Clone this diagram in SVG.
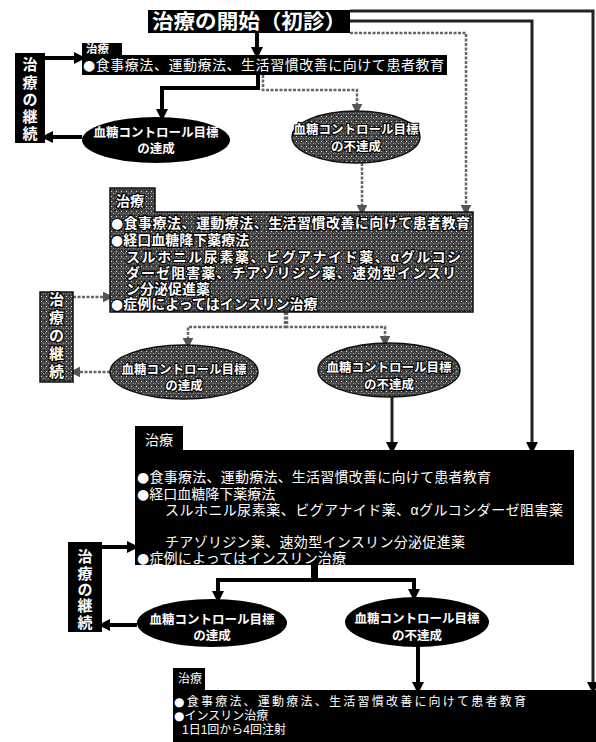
<svg xmlns="http://www.w3.org/2000/svg" width="596" height="742" viewBox="0 0 596 742">
<style>
text{font-family:"Liberation Sans","Noto Sans CJK JP","Noto Sans CJK SC",sans-serif;fill:#fff}
.b{font-family:"DejaVu Sans",sans-serif}
.t{font-size:14px}
.s{font-size:12px}
.v{font-size:15px;text-anchor:middle;font-weight:bold}
.e{font-size:12.5px;text-anchor:middle;font-weight:bold}
.g{stroke:#000;stroke-width:2.2px;paint-order:stroke;font-weight:bold}
.blk{fill:#000}
.tx{fill:url(#tex);stroke:#111;stroke-width:1.5}
.cb{fill:none;stroke:#000;stroke-width:4}
.cm{fill:none;stroke:#222;stroke-width:3}
.cg{fill:none;stroke:#666;stroke-width:2.5;stroke-dasharray:3 1.5}
</style>
<defs>
<pattern id="tex" width="5" height="5" patternUnits="userSpaceOnUse">
<rect width="5" height="5" fill="#454545"/>
<rect x="1" y="1" width="1" height="1" fill="#ddd"/>
<rect x="3" y="3" width="1" height="1" fill="#9a9a9a"/>
<rect x="4" y="0" width="1" height="1" fill="#111"/>
<rect x="0" y="3" width="1" height="1" fill="#777"/>
</pattern>
<marker id="ab" viewBox="0 0 12 12" refX="8" refY="6" markerWidth="12" markerHeight="12" markerUnits="userSpaceOnUse" orient="auto"><path d="M0,0 L12,6 L0,12 Z" fill="#000"/></marker>
<marker id="ag" viewBox="0 0 12 12" refX="8" refY="6" markerWidth="11" markerHeight="11" markerUnits="userSpaceOnUse" orient="auto"><path d="M0,0 L12,6 L0,12 Z" fill="#555"/></marker>
</defs>

<g id="connectors">
<path class="cm" d="M350,11 H593 V690" marker-end="url(#ab)"/>
<path class="cm" d="M350,21 H532 V450" stroke="#333" marker-end="url(#ab)"/>
<path class="cg" d="M350,33 H466 V212" marker-end="url(#ag)"/>
<path class="cb" d="M257,33 V55" marker-end="url(#ab)"/>
<path class="cb" d="M45,58 H82" marker-end="url(#ab)"/>
<path class="cb" d="M258,75 V88 H162 V117" marker-end="url(#ab)"/>
<path class="cg" d="M263,75 V90 H357 V111" marker-end="url(#ag)"/>
<path class="cb" d="M82,137 H45" marker-end="url(#ab)"/>
<path class="cg" d="M362,163 V212" marker-end="url(#ag)"/>
<path class="cg" d="M73,297 H110" marker-end="url(#ag)"/>
<path class="cg" d="M285,312 V327 H188 V345" marker-end="url(#ag)"/>
<path class="cg" d="M287,312 V327 H385 V343" marker-end="url(#ag)"/>
<path class="cg" d="M110,372 H73" marker-end="url(#ag)"/>
<path class="cm" d="M392,397 V450" marker-end="url(#ab)"/>
<path class="cb" d="M102,547 H135" marker-end="url(#ab)"/>
<path class="cb" d="M313,565 V580 H218 V599" marker-end="url(#ab)"/>
<path class="cb" d="M316,565 V580 H414 V597" marker-end="url(#ab)"/>
<path class="cb" d="M137,625 H102" marker-end="url(#ab)"/>
<path class="cb" d="M418,647 V690" marker-end="url(#ab)"/>
</g>

<g id="start">
<rect class="blk" x="148" y="10" width="202" height="23"/>
<text x="152" y="29" font-size="20" font-weight="bold" textLength="194" lengthAdjust="spacingAndGlyphs">治療の開始（初診）</text>
</g>

<g id="treat1">
<path class="blk" d="M82,43 H122 V55 H447 V75 H82 Z"/>
<text x="86" y="53" font-size="11.5" font-weight="bold">治療</text>
<text class="t" x="83" y="70" textLength="361" lengthAdjust="spacing"><tspan class="b">●</tspan>食事療法、運動療法、生活習慣改善に向けて患者教育</text>
</g>

<g id="cont1">
<rect class="blk" x="15" y="53" width="30" height="90"/>
<text class="v"><tspan x="30" y="70">治</tspan><tspan x="30" y="88">療</tspan><tspan x="30" y="105">の</tspan><tspan x="30" y="122">継</tspan><tspan x="30" y="139">続</tspan></text>
</g>

<g id="ok1">
<ellipse class="blk" cx="156" cy="140" rx="74" ry="23"/>
<text class="e"><tspan x="156" y="137">血糖コントロール目標</tspan><tspan x="156" y="153">の達成</tspan></text>
</g>

<g id="ng1">
<ellipse class="tx" cx="356" cy="137" rx="64" ry="26"/>
<text class="e g"><tspan x="356" y="134">血糖コントロール目標</tspan><tspan x="356" y="151">の不達成</tspan></text>
</g>

<g id="treat2">
<path class="tx" d="M110,188 H155 V212 H473 V312 H110 Z"/>
<text class="t g" x="116" y="206">治療</text>
<text class="t g"><tspan x="111" y="228" textLength="359" lengthAdjust="spacing"><tspan class="b">●</tspan>食事療法、運動療法、生活習慣改善に向けて患者教育</tspan><tspan x="111" y="245"><tspan class="b">●</tspan>経口血糖降下薬療法</tspan><tspan x="126" y="262" textLength="335" lengthAdjust="spacing">スルホニル尿素薬、ビグアナイド薬、αグルコシ</tspan><tspan x="126" y="278" textLength="330" lengthAdjust="spacing">ダーゼ阻害薬、チアゾリジン薬、速効型インスリ</tspan><tspan x="126" y="294">ン分泌促進薬</tspan><tspan x="111" y="309"><tspan class="b">●</tspan>症例によってはインスリン治療</tspan></text>
</g>

<g id="cont2">
<rect class="tx" x="40" y="292" width="33" height="90"/>
<text class="v g"><tspan x="56.5" y="305">治</tspan><tspan x="56.5" y="323">療</tspan><tspan x="56.5" y="341">の</tspan><tspan x="56.5" y="359">継</tspan><tspan x="56.5" y="377">続</tspan></text>
</g>

<g id="ok2">
<ellipse class="tx" cx="184" cy="372" rx="74" ry="27"/>
<text class="e g"><tspan x="184" y="374">血糖コントロール目標</tspan><tspan x="184" y="390">の達成</tspan></text>
</g>

<g id="ng2">
<ellipse class="tx" cx="389" cy="370" rx="71" ry="27"/>
<text class="e g"><tspan x="389" y="372">血糖コントロール目標</tspan><tspan x="389" y="389">の不達成</tspan></text>
</g>

<g id="treat3">
<path class="blk" d="M135,426 H183 V450 H574 V565 H135 Z"/>
<text class="t" x="145" y="445">治療</text>
<text class="t"><tspan x="137" y="482" textLength="354" lengthAdjust="spacing"><tspan class="b">●</tspan>食事療法、運動療法、生活習慣改善に向けて患者教育</tspan><tspan x="137" y="499"><tspan class="b">●</tspan>経口血糖降下薬療法</tspan><tspan x="165" y="515" textLength="398" lengthAdjust="spacing">スルホニル尿素薬、ビグアナイド薬、αグルコシダーゼ阻害薬</tspan><tspan x="165" y="547" textLength="300" lengthAdjust="spacing">チアゾリジン薬、速効型インスリン分泌促進薬</tspan><tspan x="137" y="563" textLength="209" lengthAdjust="spacing"><tspan class="b">●</tspan>症例によってはインスリン治療</tspan></text>
</g>

<g id="cont3">
<rect class="blk" x="68" y="542" width="34" height="90"/>
<text class="v"><tspan x="85" y="562">治</tspan><tspan x="85" y="579">療</tspan><tspan x="85" y="595">の</tspan><tspan x="85" y="611">継</tspan><tspan x="85" y="628">続</tspan></text>
</g>

<g id="ok3">
<ellipse class="blk" cx="212" cy="623" rx="75" ry="24"/>
<text class="e"><tspan x="212" y="624">血糖コントロール目標</tspan><tspan x="212" y="640">の達成</tspan></text>
</g>

<g id="ng3">
<ellipse class="blk" cx="417" cy="622" rx="72" ry="25"/>
<text class="e"><tspan x="417" y="623">血糖コントロール目標</tspan><tspan x="417" y="640">の不達成</tspan></text>
</g>

<g id="treat4">
<path class="blk" d="M173,668 H205 V690 H596 V742 H173 Z"/>
<text class="s" x="178" y="683">治療</text>
<text class="s"><tspan x="174" y="706" textLength="352" lengthAdjust="spacing"><tspan class="b">●</tspan>食事療法、運動療法、生活習慣改善に向けて患者教育</tspan><tspan x="174" y="720"><tspan class="b">●</tspan>インスリン治療</tspan><tspan x="182" y="734">1日1回から4回注射</tspan></text>
</g>
</svg>
